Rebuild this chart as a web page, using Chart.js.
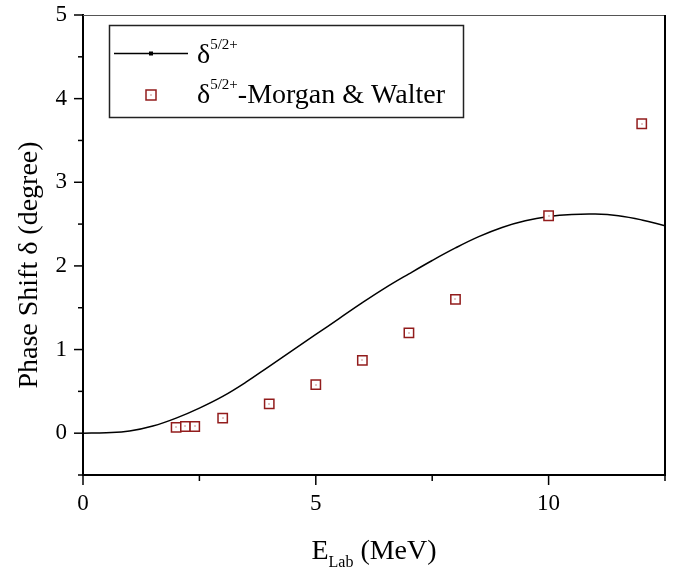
<!DOCTYPE html>
<html>
<head>
<meta charset="utf-8">
<script src="https://cdn.jsdelivr.net/npm/chart.js@4/dist/chart.umd.min.js"></script>
<style>
  html, body { margin: 0; padding: 0; background: #fff; }
  canvas { display: block; }
</style>
</head>
<body>
<canvas id="phase" width="683" height="575"></canvas>
<script>
// calculated phase shift (solid curve)
const curveE = [0, 0.5, 1, 1.5, 2, 2.5, 3, 3.5, 4, 4.5, 5, 5.5, 6, 6.5, 7, 7.5, 8, 8.5, 9, 9.5, 10, 10.5, 11, 11.5, 12, 12.5];
const curveDelta = [0, 0.005, 0.025, 0.085, 0.18, 0.30, 0.44, 0.61, 0.80, 0.99, 1.18, 1.37, 1.56, 1.74, 1.905, 2.065, 2.215, 2.35, 2.46, 2.54, 2.59, 2.615, 2.62, 2.60, 2.55, 2.48];

// Morgan & Walter data (open squares)
const expE = [2, 2.2, 2.4, 3, 4, 5, 6, 7, 8, 10, 12];
const expDelta = [0.07, 0.08, 0.08, 0.18, 0.35, 0.58, 0.87, 1.2, 1.6, 2.6, 3.7];

const xTicks = [0, 5, 10];
const yTicks = [0, 1, 2, 3, 4, 5];

const SERIF = '"Liberation Serif", "Times New Roman", serif';
const RED = '#921c1c';

// draws text with an optional superscript / subscript piece, returns end x
function richText(ctx, parts, x, y) {
  parts.forEach(p => {
    ctx.font = p.size + 'px ' + SERIF;
    ctx.fillText(p.t, x, y + (p.dy || 0));
    x += ctx.measureText(p.t).width;
  });
  return x;
}
function richWidth(ctx, parts) {
  return parts.reduce((w, p) => {
    ctx.font = p.size + 'px ' + SERIF;
    return w + ctx.measureText(p.t).width;
  }, 0);
}

const frameAndTicks = {
  id: 'frameAndTicks',
  afterDatasetsDraw(chart) {
    // little dot in the middle of each square
    const ctx = chart.ctx;
    ctx.save();
    ctx.fillStyle = RED;
    chart.getDatasetMeta(0).data.forEach(pt => {
      ctx.fillRect(Math.round(pt.x) - 0.5, Math.round(pt.y) - 0.5, 1, 1);
    });
    ctx.restore();
  },
  afterDraw(chart) {
    const { ctx, chartArea: a, scales: { x, y } } = chart;
    ctx.save();
    // top edge
    ctx.strokeStyle = '#555';
    ctx.lineWidth = 1.2;
    ctx.beginPath();
    ctx.moveTo(a.left, a.top + 0.5);
    ctx.lineTo(a.right, a.top + 0.5);
    ctx.stroke();
    // right edge
    ctx.strokeStyle = '#000';
    ctx.lineWidth = 2;
    ctx.beginPath();
    ctx.moveTo(a.right, a.top);
    ctx.lineTo(a.right, a.bottom);
    ctx.stroke();

    // outward ticks, long on labelled values
    ctx.lineWidth = 1.5;
    x.ticks.forEach(t => {
      const px = x.getPixelForValue(t.value);
      const len = xTicks.includes(t.value) ? 10 : 6;
      ctx.beginPath();
      ctx.moveTo(px, a.bottom);
      ctx.lineTo(px, a.bottom + len);
      ctx.stroke();
    });
    y.ticks.forEach(t => {
      const py = y.getPixelForValue(t.value);
      const len = yTicks.includes(t.value) ? 9 : 5;
      ctx.beginPath();
      ctx.moveTo(a.left, py);
      ctx.lineTo(a.left - len, py);
      ctx.stroke();
    });

    // axis titles
    ctx.fillStyle = '#000';
    ctx.textBaseline = 'alphabetic';
    ctx.textAlign = 'left';
    const xTitle = [
      { t: 'E', size: 28 },
      { t: 'Lab', size: 16, dy: 8 },
      { t: ' (MeV)', size: 28 }
    ];
    const cx = (a.left + a.right) / 2;
    richText(ctx, xTitle, cx - richWidth(ctx, xTitle) / 2, 559);

    ctx.save();
    ctx.translate(37, 265);
    ctx.rotate(-Math.PI / 2);
    ctx.textAlign = 'center';
    ctx.font = '28px ' + SERIF;
    ctx.fillText('Phase Shift δ (degree)', 0, 0);
    ctx.restore();

    // legend box
    ctx.strokeStyle = '#222';
    ctx.lineWidth = 1.5;
    ctx.strokeRect(109.5, 25.5, 354, 92);
    // row 1: curve
    ctx.strokeStyle = '#000';
    ctx.lineWidth = 1.3;
    ctx.beginPath();
    ctx.moveTo(114, 53.5);
    ctx.lineTo(188, 53.5);
    ctx.stroke();
    ctx.fillStyle = '#000';
    ctx.fillRect(149, 51.5, 4, 4);
    richText(ctx, [
      { t: 'δ', size: 28 },
      { t: '5/2+', size: 15, dy: -14 }
    ], 197, 63);
    // row 2: data squares
    ctx.strokeStyle = RED;
    ctx.lineWidth = 1.5;
    ctx.strokeRect(146, 90, 10, 10);
    ctx.fillStyle = RED;
    ctx.fillRect(150.5, 94.5, 1, 1);
    ctx.fillStyle = '#000';
    richText(ctx, [
      { t: 'δ', size: 28 },
      { t: '5/2+', size: 15, dy: -14 },
      { t: '-Morgan & Walter', size: 28 }
    ], 197, 103);
    ctx.restore();
  }
};

new Chart(document.getElementById('phase'), {
  type: 'scatter',
  data: {
    datasets: [
      {
        label: 'Morgan & Walter',
        data: expE.map((e, i) => ({ x: e, y: expDelta[i] })),
        pointStyle: 'rect',
        pointRadius: 6.6,
        borderWidth: 1.5,
        borderColor: RED,
        backgroundColor: '#fff',
        order: 0
      },
      {
        type: 'line',
        label: 'delta 5/2+',
        data: curveE.map((e, i) => ({ x: e, y: curveDelta[i] })),
        borderColor: '#000',
        borderWidth: 1.5,
        pointRadius: 0,
        tension: 0.4,
        fill: false,
        order: 1
      }
    ]
  },
  options: {
    responsive: false,
    animation: false,
    events: [],
    layout: { padding: { top: 0, right: 18, left: 0, bottom: 0 } },
    plugins: {
      legend: { display: false },
      tooltip: { enabled: false }
    },
    scales: {
      x: {
        type: 'linear',
        min: 0,
        max: 12.5,
        grid: { display: false, drawTicks: false },
        border: { display: true, color: '#000', width: 2 },
        ticks: {
          stepSize: 2.5,
          padding: 15,
          color: '#000',
          maxRotation: 0,
          autoSkip: false,
          font: { family: SERIF, size: 23 },
          callback: v => (xTicks.includes(v) ? String(v) : '')
        },
        afterFit: s => { s.height = 100; }
      },
      y: {
        min: -0.5,
        max: 5,
        grid: { display: false, drawTicks: false },
        border: { display: true, color: '#000', width: 2 },
        ticks: {
          stepSize: 0.5,
          padding: 16,
          color: '#000',
          autoSkip: false,
          font: { family: SERIF, size: 23 },
          callback: v => (yTicks.includes(v) ? String(v) : '')
        },
        afterFit: s => {
          s.width = 83;
          // keep the plot top at 15px instead of the label-driven offset
          s.paddingTop = 15;
          s.paddingBottom = 0;
        }
      }
    }
  },
  plugins: [frameAndTicks]
});
</script>
</body>
</html>
